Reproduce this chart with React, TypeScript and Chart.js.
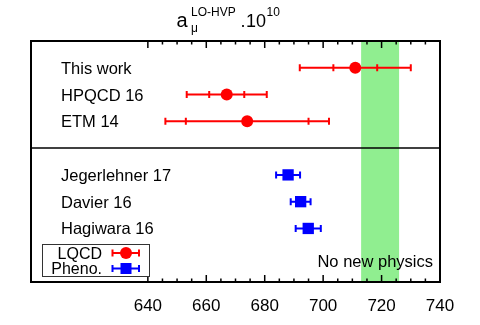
import React, { useEffect, useRef } from "react";
import { Chart, registerables } from "chart.js";

Chart.register(...registerables);

// ---- data ----
const lqcdLabels = ["This work", "HPQCD 16", "ETM 14"];
const lqcdValues = [711, 667, 674];
const lqcdStatErr = [7.5, 6, 21];
const lqcdTotErr = [19, 13.7, 28];
const lqcdRows = [1, 2, 3];

const phenoLabels = ["Jegerlehner 17", "Davier 16", "Hagiwara 16"];
const phenoValues = [688, 692.3, 694.9];
const phenoErr = [4.1, 3.4, 4.3];
const phenoRows = [5, 6, 7];

const dividerRow = 4;
const noNewPhysicsRange = [713, 726];
const xTickLabels = [640, 660, 680, 700, 720, 740];
const minorTickStep = 5;

const FONT = "'Liberation Sans', Arial, Helvetica, sans-serif";
const RED = "#ff0000";
const BLUE = "#0000ff";

const decorPlugin = {
  id: "decor",
  beforeDatasetsDraw(chart: any) {
    const { ctx, chartArea, scales } = chart;
    const { left, right, top, bottom } = chartArea;
    const x = scales.x;
    const y = scales.y;
    ctx.save();

    // green band
    const bx0 = x.getPixelForValue(noNewPhysicsRange[0]);
    const bx1 = x.getPixelForValue(noNewPhysicsRange[1]);
    ctx.fillStyle = "#90ee90";
    ctx.fillRect(bx0, top, bx1 - bx0, bottom - top);

    // divider
    ctx.strokeStyle = "#000";
    ctx.lineWidth = 1.5;
    const dy = y.getPixelForValue(dividerRow);
    ctx.beginPath();
    ctx.moveTo(left, dy);
    ctx.lineTo(right, dy);
    ctx.stroke();

    // ticks
    ctx.lineWidth = 1.5;
    const t0 = xTickLabels[0];
    const t1 = xTickLabels[xTickLabels.length - 1];
    for (let v = t0; v <= t1; v += minorTickStep) {
      const px = x.getPixelForValue(v);
      const len = xTickLabels.includes(v) ? 7 : 3.5;
      ctx.beginPath();
      ctx.moveTo(px, top);
      ctx.lineTo(px, top + len);
      ctx.moveTo(px, bottom);
      ctx.lineTo(px, bottom - len);
      ctx.stroke();
    }

    // frame
    ctx.lineWidth = 2;
    ctx.strokeRect(left, top, right - left, bottom - top);

    // tick labels
    ctx.fillStyle = "#000";
    ctx.font = `17px ${FONT}`;
    ctx.textAlign = "center";
    ctx.textBaseline = "alphabetic";
    xTickLabels.forEach((v) => {
      ctx.fillText(String(v), x.getPixelForValue(v), bottom + 29);
    });

    // title
    ctx.textAlign = "left";
    ctx.font = `20px ${FONT}`;
    ctx.fillText("a", 176.5, 26.5);
    ctx.font = `12px ${FONT}`;
    ctx.fillText("μ", 191, 32);
    ctx.fillText("LO-HVP", 191, 16);
    ctx.font = `18px ${FONT}`;
    ctx.fillText(".", 240.5, 26.5);
    ctx.fillText("10", 246, 26.5);
    ctx.font = `12px ${FONT}`;
    ctx.fillText("10", 266.5, 16);

    // row labels
    ctx.font = `16.5px ${FONT}`;
    lqcdLabels.forEach((l, i) => ctx.fillText(l, 61, y.getPixelForValue(lqcdRows[i]) + 6));
    phenoLabels.forEach((l, i) => ctx.fillText(l, 61, y.getPixelForValue(phenoRows[i]) + 6));

    // no new physics
    ctx.textAlign = "right";
    ctx.fillText("No new physics", 433, 267);

    // error bars
    const hbar = (c: string, lo: number, hi: number, py: number, capH: number, inner?: number[]) => {
      ctx.strokeStyle = c;
      ctx.lineWidth = 2;
      ctx.beginPath();
      ctx.moveTo(lo, py);
      ctx.lineTo(hi, py);
      ctx.moveTo(lo, py - capH);
      ctx.lineTo(lo, py + capH);
      ctx.moveTo(hi, py - capH);
      ctx.lineTo(hi, py + capH);
      if (inner) {
        inner.forEach((ix) => {
          ctx.moveTo(ix, py - capH);
          ctx.lineTo(ix, py + capH);
        });
      }
      ctx.stroke();
    };
    lqcdValues.forEach((v, i) => {
      const py = y.getPixelForValue(lqcdRows[i]);
      hbar(
        RED,
        x.getPixelForValue(v - lqcdTotErr[i]),
        x.getPixelForValue(v + lqcdTotErr[i]),
        py,
        3.5,
        [x.getPixelForValue(v - lqcdStatErr[i]), x.getPixelForValue(v + lqcdStatErr[i])]
      );
    });
    phenoValues.forEach((v, i) => {
      const py = y.getPixelForValue(phenoRows[i]);
      hbar(BLUE, x.getPixelForValue(v - phenoErr[i]), x.getPixelForValue(v + phenoErr[i]), py, 3.5);
    });

    // legend box
    ctx.fillStyle = "#fff";
    ctx.fillRect(42.5, 244.5, 107, 32);
    ctx.strokeStyle = "#333";
    ctx.lineWidth = 1;
    ctx.strokeRect(42.5, 244.5, 107, 32);
    ctx.fillStyle = "#000";
    ctx.font = `16px ${FONT}`;
    ctx.textAlign = "right";
    ctx.fillText("LQCD", 102, 258.5);
    ctx.fillText("Pheno.", 102, 274);
    hbar(RED, 112.5, 139, 253, 3.5);
    hbar(BLUE, 112.5, 139, 268.5, 3.5);
    ctx.fillStyle = RED;
    ctx.beginPath();
    ctx.arc(126, 253, 6, 0, Math.PI * 2);
    ctx.fill();
    ctx.fillStyle = BLUE;
    ctx.fillRect(120.5, 263, 11, 11);

    ctx.restore();
  },
};

export default function App() {
  const ref = useRef<HTMLCanvasElement>(null);
  useEffect(() => {
    document.body.style.margin = "0";
    const chart = new Chart(ref.current!, {
      type: "scatter",
      data: {
        datasets: [
          {
            label: "LQCD",
            data: lqcdValues.map((v, i) => ({ x: v, y: lqcdRows[i] })),
            pointStyle: "circle",
            pointRadius: 6,
            pointBorderWidth: 0,
            backgroundColor: RED,
            borderColor: RED,
          },
          {
            label: "Pheno.",
            data: phenoValues.map((v, i) => ({ x: v, y: phenoRows[i] })),
            pointStyle: "rect",
            pointRadius: 8,
            pointBorderWidth: 0,
            backgroundColor: BLUE,
            borderColor: BLUE,
          },
        ],
      },
      options: {
        responsive: false,
        animation: false,
        events: [],
        layout: { padding: { left: 31, top: 41, right: 40, bottom: 43 } },
        plugins: { legend: { display: false }, tooltip: { enabled: false }, title: { display: false } },
        scales: {
          x: { type: "linear", min: 600, max: 740, display: false },
          y: { type: "linear", min: 0, max: 9, reverse: true, display: false },
        },
      },
      plugins: [decorPlugin],
    });
    return () => chart.destroy();
  }, []);
  return (
    <div style={{ width: 480, height: 325 }}>
      <canvas ref={ref} width={480} height={325} />
    </div>
  );
}
